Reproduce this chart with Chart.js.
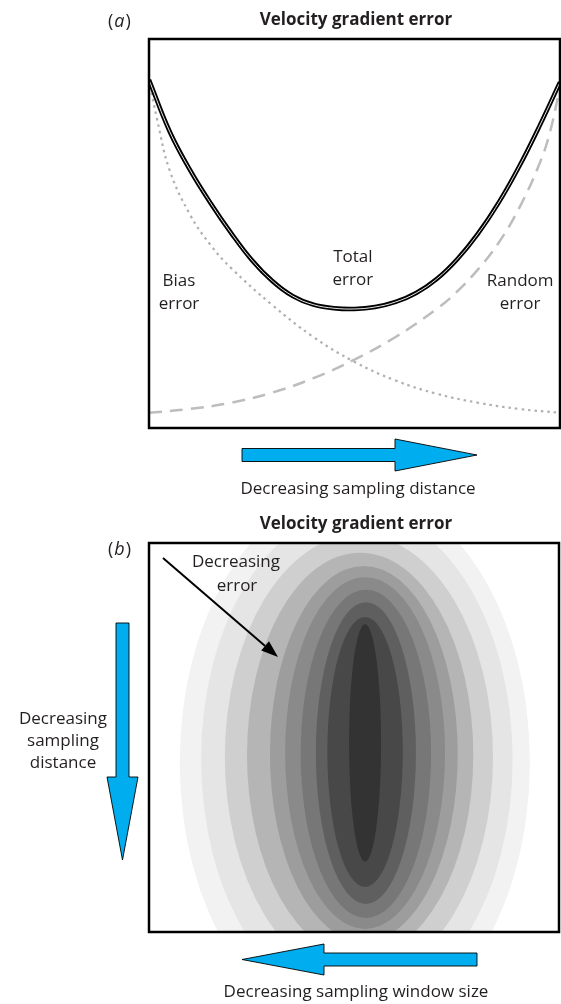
<!DOCTYPE html>
<html>
<head>
<meta charset="utf-8">
<script src="https://cdn.jsdelivr.net/npm/chart.js@4.4.0/dist/chart.umd.min.js"></script>
<style>
  html, body { margin: 0; padding: 0; background: #fff; }
  #wrap { position: relative; width: 561px; height: 1004px; overflow: hidden; }
  canvas { position: absolute; left: 0; }
  #panelA { top: 0; }
  #panelB { top: 505px; }
</style>
</head>
<body>
<div id="wrap">
  <canvas id="panelA" width="561" height="505"></canvas>
  <canvas id="panelB" width="561" height="499"></canvas>
</div>
<script>
// ---- Panel (a): error components against sampling distance (normalised) ----
const samplingPos = [0, 0.05, 0.1, 0.15, 0.2, 0.25, 0.3, 0.35, 0.4, 0.45, 0.5,
                     0.55, 0.6, 0.65, 0.7, 0.75, 0.8, 0.85, 0.9, 0.95, 1];
const totalError  = [0.895, 0.763, 0.663, 0.578, 0.501, 0.432, 0.378, 0.339, 0.317, 0.308, 0.306,
                     0.311, 0.324, 0.347, 0.383, 0.434, 0.499, 0.578, 0.671, 0.776, 0.889];

const biasPos   = [0, 0.02, 0.05, 0.1, 0.15, 0.2, 0.3, 0.4, 0.5, 0.6, 0.7, 0.8, 0.9, 1];
const biasError = [0.895, 0.792, 0.663, 0.548, 0.470, 0.411, 0.316, 0.234, 0.170, 0.122,
                   0.088, 0.065, 0.049, 0.039];

const randomPos   = [0, 0.1, 0.2, 0.3, 0.4, 0.5, 0.6, 0.7, 0.75, 0.8, 0.85, 0.9, 0.95, 0.975, 1];
const randomError = [0.039, 0.049, 0.065, 0.091, 0.128, 0.176, 0.234, 0.306, 0.351, 0.407, 0.475,
                     0.564, 0.679, 0.758, 0.877];

// curve labels: text lines and their anchor in data units
const curveLabels = [
  { lines: ['Bias', 'error'],   x: 0.073, y: 0.378 },
  { lines: ['Total', 'error'],  x: 0.496, y: 0.438 },
  { lines: ['Random', 'error'], x: 0.903, y: 0.378 }
];

// ---- Panel (b): contour levels of the error field (window size x, sampling distance y) ----
const levelColors  = ['#f2f2f2', '#e5e5e5', '#cfcfcf', '#b5b5b5', '#9d9d9d',
                      '#8a8a8a', '#777777', '#5f5f5f', '#484848', '#333333'];
const levelCenterX = [0.502, 0.507, 0.512, 0.515, 0.524, 0.527, 0.529, 0.529, 0.527, 0.527];
const levelCenterY = [0.563, 0.556, 0.550, 0.545, 0.542, 0.540, 0.542, 0.540, 0.537, 0.514];
const levelRadiusX = [0.427, 0.380, 0.327, 0.276, 0.229, 0.195, 0.159, 0.122, 0.092, 0.039];
const levelRadiusY = [0.700, 0.640, 0.572, 0.520, 0.483, 0.452, 0.422, 0.388, 0.347, 0.305];

const FONT = '"Open Sans", "Noto Sans", sans-serif';
const LABEL_FONT = '17px ' + FONT;
const TITLE_FONT = 'bold 17px ' + FONT;
const INK = '#231f20';
const ARROW_BLUE = '#00aeef';

function toPoints(xs, ys) { return xs.map((x, i) => ({ x: x, y: ys[i] })); }

function drawPoly(ctx, pts) {
  ctx.save();
  ctx.beginPath();
  ctx.moveTo(pts[0][0], pts[0][1]);
  for (let i = 1; i < pts.length; i++) ctx.lineTo(pts[i][0], pts[i][1]);
  ctx.closePath();
  ctx.fillStyle = ARROW_BLUE;
  ctx.fill();
  ctx.lineWidth = 0.9;
  ctx.strokeStyle = '#000';
  ctx.lineJoin = 'miter';
  ctx.stroke();
  ctx.restore();
}

// horizontal block arrow: tail x, head base x, tip x, centre y, shaft half height, head half height
function hArrow(ctx, tail, base, tip, cy, sh, hh) {
  drawPoly(ctx, [[tail, cy - sh], [base, cy - sh], [base, cy - hh], [tip, cy],
                 [base, cy + hh], [base, cy + sh], [tail, cy + sh]]);
}
// vertical block arrow pointing down
function vArrow(ctx, tail, base, tip, cx, sw, hw) {
  drawPoly(ctx, [[cx - sw, tail], [cx - sw, base], [cx - hw, base], [cx, tip],
                 [cx + hw, base], [cx + sw, base], [cx + sw, tail]]);
}

function text(ctx, str, x, y, font, align) {
  ctx.save();
  ctx.font = font;
  ctx.fillStyle = INK;
  ctx.textAlign = align || 'center';
  ctx.textBaseline = 'middle';
  ctx.fillText(str, x, y);
  ctx.restore();
}

// "(a)" / "(b)" with an italic letter
function panelTag(ctx, letter, x, y) {
  ctx.save();
  ctx.fillStyle = INK;
  ctx.textBaseline = 'alphabetic';
  ctx.textAlign = 'left';
  const up = '18px ' + FONT, it = 'italic 18px ' + FONT;
  ctx.font = up; ctx.fillText('(', x, y);
  let w = ctx.measureText('(').width + 1;
  ctx.font = it; ctx.fillText(letter, x + w, y);
  w += ctx.measureText(letter).width + 1;
  ctx.font = up; ctx.fillText(')', x + w, y);
  ctx.restore();
}

function frame(chart, width) {
  const a = chart.chartArea, ctx = chart.ctx;
  ctx.save();
  ctx.lineWidth = width;
  ctx.strokeStyle = '#000';
  ctx.strokeRect(a.left, a.top, a.right - a.left, a.bottom - a.top);
  ctx.restore();
}

// ---------------- Panel (a) ----------------
const panelADecor = {
  id: 'panelADecor',
  afterDatasetsDraw(chart) {
    const ctx = chart.ctx, xs = chart.scales.x, ys = chart.scales.y;
    curveLabels.forEach(l => {
      const px = xs.getPixelForValue(l.x), py = ys.getPixelForValue(l.y);
      l.lines.forEach((t, i) => text(ctx, t, px, py + i * 23, LABEL_FONT));
    });
    frame(chart, 2.5);
  },
  afterDraw(chart) {
    const ctx = chart.ctx;
    text(ctx, 'Velocity gradient error', 356, 20, TITLE_FONT);
    panelTag(ctx, 'a', 108, 27);
    hArrow(ctx, 242, 395, 477, 455, 6.5, 16);
    text(ctx, 'Decreasing sampling distance', 358, 489, LABEL_FONT);
  }
};

const lineStyle = { showLine: true, pointRadius: 0, tension: 0.4 };

new Chart(document.getElementById('panelA'), {
  type: 'scatter',
  data: {
    datasets: [
      Object.assign({ label: 'Total error core', data: toPoints(samplingPos, totalError),
        borderColor: '#ffffff', borderWidth: 0.9, order: 0 }, lineStyle),
      Object.assign({ label: 'Total error', data: toPoints(samplingPos, totalError),
        borderColor: '#000000', borderWidth: 4.5, order: 1 }, lineStyle),
      Object.assign({ label: 'Bias error', data: toPoints(biasPos, biasError),
        borderColor: '#b0b0b0', borderWidth: 2.2, borderDash: [2.5, 4], order: 2 }, lineStyle),
      Object.assign({ label: 'Random error', data: toPoints(randomPos, randomError),
        borderColor: '#bdbdbd', borderWidth: 2.5, borderDash: [13, 8], order: 3 }, lineStyle)
    ]
  },
  options: {
    responsive: false,
    animation: false,
    devicePixelRatio: 1,
    layout: { padding: { left: 149, top: 39, right: 1, bottom: 77 } },
    scales: {
      x: { type: 'linear', min: 0, max: 1, display: false },
      y: { type: 'linear', min: 0, max: 1, display: false }
    },
    plugins: { legend: { display: false }, tooltip: { enabled: false }, title: { display: false } }
  },
  plugins: [panelADecor]
});

// ---------------- Panel (b) ----------------
const contourLevels = {
  id: 'contourLevels',
  beforeDatasetsDraw(chart) {
    const ctx = chart.ctx, a = chart.chartArea, xs = chart.scales.x, ys = chart.scales.y;
    ctx.save();
    ctx.beginPath();
    ctx.rect(a.left, a.top, a.right - a.left, a.bottom - a.top);
    ctx.clip();
    levelColors.forEach((c, i) => {
      const cx = xs.getPixelForValue(levelCenterX[i]);
      const cy = ys.getPixelForValue(levelCenterY[i]);
      const rx = Math.abs(xs.getPixelForValue(levelCenterX[i] + levelRadiusX[i]) - cx);
      const ry = Math.abs(ys.getPixelForValue(levelCenterY[i] + levelRadiusY[i]) - cy);
      ctx.beginPath();
      ctx.ellipse(cx, cy, rx, ry, 0, 0, Math.PI * 2);
      ctx.fillStyle = c;
      ctx.fill();
    });
    ctx.restore();
  },
  afterDatasetsDraw(chart) {
    frame(chart, 2.5);
  },
  afterDraw(chart) {
    const ctx = chart.ctx;
    text(ctx, 'Velocity gradient error', 356, 19, TITLE_FONT);
    panelTag(ctx, 'b', 108, 50);

    // "Decreasing error" pointer
    text(ctx, 'Decreasing', 236, 57, LABEL_FONT);
    text(ctx, 'error', 237, 81, LABEL_FONT);
    const x0 = 163, y0 = 53, x1 = 278, y1 = 152;
    const ang = Math.atan2(y1 - y0, x1 - x0), hl = 17, hw = 6;
    const bx = x1 - hl * Math.cos(ang), by = y1 - hl * Math.sin(ang);
    ctx.save();
    ctx.strokeStyle = '#000'; ctx.lineWidth = 2;
    ctx.beginPath(); ctx.moveTo(x0, y0); ctx.lineTo(bx, by); ctx.stroke();
    ctx.beginPath();
    ctx.moveTo(x1, y1);
    ctx.lineTo(bx + hw * Math.sin(ang), by - hw * Math.cos(ang));
    ctx.lineTo(bx - hw * Math.sin(ang), by + hw * Math.cos(ang));
    ctx.closePath(); ctx.fillStyle = '#000'; ctx.fill();
    ctx.restore();

    // sampling distance arrow (left)
    vArrow(ctx, 118, 272, 355, 122.5, 6.5, 15.5);
    text(ctx, 'Decreasing', 63, 214, LABEL_FONT);
    text(ctx, 'sampling', 63, 236, LABEL_FONT);
    text(ctx, 'distance', 63, 258, LABEL_FONT);

    // sampling window arrow (bottom)
    hArrow(ctx, 477, 324, 242, 454.5, 6.5, 15.5);
    text(ctx, 'Decreasing sampling window size', 356, 487, LABEL_FONT);
  }
};

new Chart(document.getElementById('panelB'), {
  type: 'scatter',
  data: { datasets: [] },
  options: {
    responsive: false,
    animation: false,
    devicePixelRatio: 1,
    layout: { padding: { left: 149, top: 38, right: 2, bottom: 72 } },
    scales: {
      x: { type: 'linear', min: 0, max: 1, display: false },
      y: { type: 'linear', min: 0, max: 1, reverse: true, display: false }
    },
    plugins: { legend: { display: false }, tooltip: { enabled: false }, title: { display: false } }
  },
  plugins: [contourLevels]
});
</script>
</body>
</html>
